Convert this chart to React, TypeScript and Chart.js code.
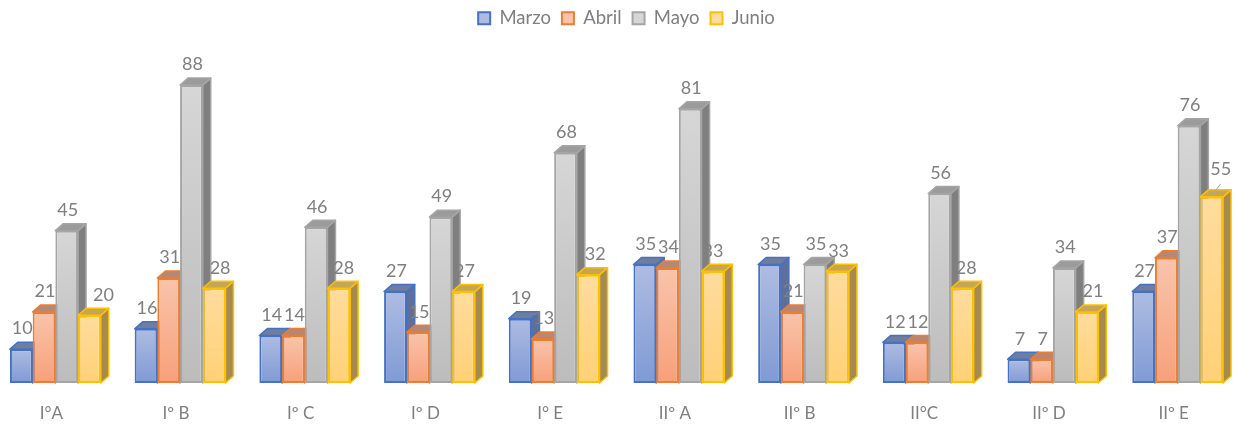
import React, { useEffect, useRef } from "react";
import { Chart, registerables } from "chart.js";

Chart.register(...registerables);

const categories = ["I°A", "Iº B", "Iº C", "Iº D", "I° E", "IIº A", "IIº B", "II°C", "IIº D", "IIº E"];
const marzo = [10, 16, 14, 27, 19, 35, 35, 12, 7, 27];
const abril = [21, 31, 14, 15, 13, 34, 21, 12, 7, 37];
const mayo = [45, 88, 46, 49, 68, 81, 35, 56, 34, 76];
const junio = [20, 28, 28, 27, 32, 33, 33, 28, 21, 55];
const junioLabelShift = [14, 6, 5, 1, 7, 0, 1, 4, 6, 9];

const FONT = "Lato, 'Open Sans', sans-serif";
const TEXT = "#7f7f7f";
const DX = 8;
const DY = 7;

type Look = { border: string; light: string; deep: string; flat: string; side: string; top: string };
const looks: Look[] = [
  { border: "#4472c4", light: "#aebce2", deep: "#7f9ad4", flat: "#9db0dd", side: "#5f6f97", top: "#6f7d9f" },
  { border: "#ed7d31", light: "#f9c4ab", deep: "#f7a07a", flat: "#f8b79a", side: "#b5775a", top: "#b98670" },
  { border: "#a5a5a5", light: "#d6d6d6", deep: "#bcbcbc", flat: "#c4c4c4", side: "#7f7f7f", top: "#9b9b9b" },
  { border: "#ffc000", light: "#ffdc9d", deep: "#ffd177", flat: "#ffd88f", side: "#a58b52", top: "#c4a655" },
];

function drawDepth(chart: any, index: number, meta: any) {
  const c = chart.ctx;
  const look = looks[index];
  c.save();
  c.lineWidth = 1.5;
  c.strokeStyle = look.border;
  c.lineJoin = "round";
  meta.data.forEach((el: any) => {
    const l = el.x - el.width / 2;
    const r = el.x + el.width / 2;
    const t = el.y;
    const b = el.base;
    c.beginPath();
    c.moveTo(r, t);
    c.lineTo(r + DX, t - DY);
    c.lineTo(r + DX, b - DY);
    c.lineTo(r, b);
    c.closePath();
    c.fillStyle = look.side;
    c.fill();
    c.stroke();
    c.beginPath();
    c.moveTo(l, t);
    c.lineTo(l + DX, t - DY);
    c.lineTo(r + DX, t - DY);
    c.lineTo(r, t);
    c.closePath();
    c.fillStyle = look.top;
    c.fill();
    c.stroke();
  });
  c.restore();
}

function drawLabels(chart: any, index: number, meta: any) {
  const c = chart.ctx;
  const values = chart.data.datasets[index].data;
  c.save();
  c.font = `18px ${FONT}`;
  c.fillStyle = TEXT;
  c.textAlign = "center";
  c.textBaseline = "middle";
  meta.data.forEach((el: any, i: number) => {
    const isJunio = index === 3;
    const shift = isJunio ? junioLabelShift[i] : 1;
    const raised = isJunio && i === 9 ? 7 : 0;
    c.fillText(String(values[i]), el.x + shift, el.y - 20.5 - raised);
    if (raised) {
      c.strokeStyle = "#a6a6a6";
      c.lineWidth = 1;
      c.beginPath();
      c.moveTo(el.x + shift, el.y - 13);
      c.lineTo(el.x, el.y - 1);
      c.stroke();
    }
  });
  c.restore();
}

const shape3d = {
  id: "shape3d",
  afterLayout(chart: any) {
    chart.legend.top -= 7;
    chart.legend.left += 10;
    chart.legend.right += 10;
  },
  beforeDatasetsDraw(chart: any) {
    chart.data.datasets.forEach((_: any, index: number) => {
      const meta = chart.getDatasetMeta(index);
      drawDepth(chart, index, meta);
      meta.controller.draw();
      drawLabels(chart, index, meta);
    });
    return false;
  },
};

function makeDataset(label: string, data: number[], look: Look) {
  return {
    label,
    data,
    borderColor: look.border,
    borderWidth: 2,
    borderSkipped: false,
    backgroundColor: (ctx: any) => {
      if (ctx.type !== "data") return look.flat;
      const { chart } = ctx;
      const top = chart.scales.y.getPixelForValue(ctx.raw);
      const base = chart.scales.y.getPixelForValue(0);
      if (!Number.isFinite(top) || !Number.isFinite(base)) return look.flat;
      const g = chart.ctx.createLinearGradient(0, top, 0, base);
      g.addColorStop(0, look.light);
      g.addColorStop(1, look.deep);
      return g;
    },
  };
}

export default function App() {
  const ref = useRef<HTMLCanvasElement>(null);
  useEffect(() => {
    const chart = new Chart(ref.current!, {
      type: "bar",
      data: {
        labels: categories,
        datasets: [
          makeDataset("Marzo", marzo, looks[0]),
          makeDataset("Abril", abril, looks[1]),
          makeDataset("Mayo", mayo, looks[2]),
          makeDataset("Junio", junio, looks[3]),
        ],
      },
      options: {
        animation: false,
        responsive: false,
        layout: { padding: { left: 13, right: 16, top: 5, bottom: 0 } },
        datasets: { bar: { categoryPercentage: 0.728, barPercentage: 1 } },
        scales: {
          y: { display: false, min: 0, max: 100 },
          x: {
            border: { display: false },
            grid: { display: false },
            afterFit: (s: any) => { s.height = 45; },
            ticks: {
              color: TEXT,
              font: { family: FONT, size: 17 },
              padding: 12,
              labelOffset: -4,
              maxRotation: 0,
              autoSkip: false,
            },
          },
        },
        plugins: {
          tooltip: { enabled: false },
          legend: {
            position: "top",
            labels: {
              color: TEXT,
              font: { family: FONT, size: 18.5 },
              boxWidth: 12,
              boxHeight: 12,
              padding: 11,
            },
          },
        },
      } as any,
      plugins: [shape3d],
    });
    return () => chart.destroy();
  }, []);
  return (
    <div style={{ position: "fixed", left: 0, top: 0, width: 1236, height: 428, overflow: "hidden", background: "#fff" }}>
      <canvas ref={ref} width={1276} height={428} style={{ position: "absolute", left: -20, top: 0, width: 1276, height: 428 }} />
    </div>
  );
}
